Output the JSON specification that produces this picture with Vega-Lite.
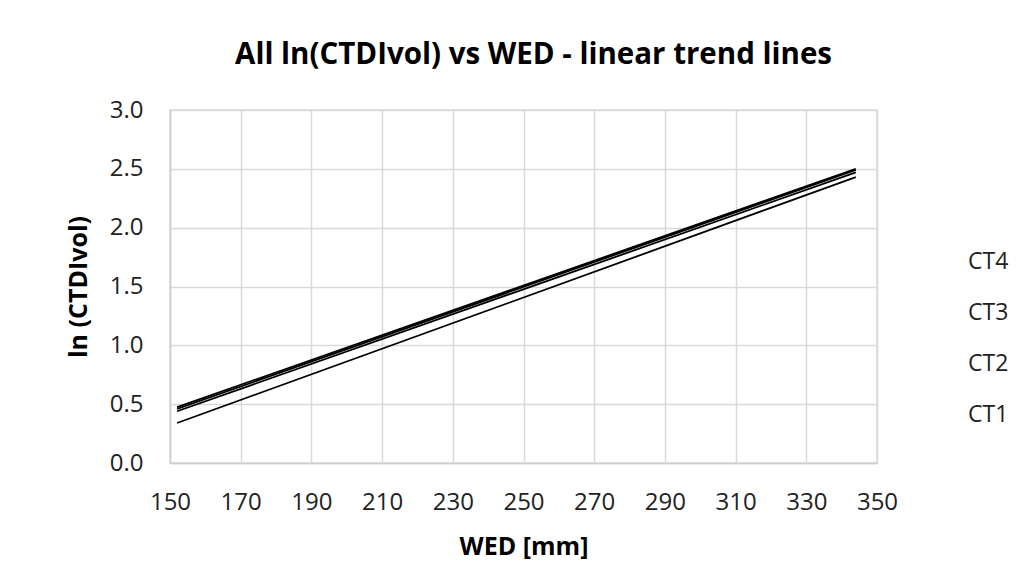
{
  "$schema": "https://vega.github.io/schema/vega-lite/v6.json",
  "autosize": "none",
  "width": 707,
  "height": 353,
  "padding": {"left": 170, "top": 110, "right": 156, "bottom": 122},
  "background": "white",
  "title": {
    "text": "All ln(CTDIvol) vs WED - linear trend lines",
    "font": "Open Sans",
    "fontSize": 29.5,
    "fontWeight": "bold",
    "color": "#000000",
    "anchor": "middle",
    "dx": 10,
    "offset": 28
  },
  "data": {
    "values": [
      {"scanner": "CT1", "wed": 152, "ln_ctdi": 0.34},
      {"scanner": "CT1", "wed": 344, "ln_ctdi": 2.43},
      {"scanner": "CT2", "wed": 152, "ln_ctdi": 0.44},
      {"scanner": "CT2", "wed": 344, "ln_ctdi": 2.47},
      {"scanner": "CT3", "wed": 152, "ln_ctdi": 0.46},
      {"scanner": "CT3", "wed": 344, "ln_ctdi": 2.49},
      {"scanner": "CT4", "wed": 152, "ln_ctdi": 0.475},
      {"scanner": "CT4", "wed": 344, "ln_ctdi": 2.5}
    ]
  },
  "mark": {"type": "line", "strokeWidth": 1.8},
  "encoding": {
    "x": {
      "field": "wed",
      "type": "quantitative",
      "title": "WED [mm]",
      "scale": {"domain": [150, 350], "nice": false, "zero": false},
      "axis": {
        "values": [150, 170, 190, 210, 230, 250, 270, 290, 310, 330, 350],
        "labelFlush": false,
        "titlePadding": 20
      }
    },
    "y": {
      "field": "ln_ctdi",
      "type": "quantitative",
      "title": "ln (CTDIvol)",
      "scale": {"domain": [0, 3], "nice": false},
      "axis": {
        "values": [0, 0.5, 1, 1.5, 2, 2.5, 3],
        "format": ".1f",
        "titlePadding": 18
      }
    },
    "color": {
      "field": "scanner",
      "type": "nominal",
      "sort": ["CT4", "CT3", "CT2", "CT1"],
      "scale": {"range": ["#000000", "#000000", "#000000", "#000000"]},
      "legend": {
        "title": null,
        "orient": "none",
        "legendX": 771,
        "legendY": 140,
        "symbolType": "stroke",
        "symbolSize": 1,
        "symbolStrokeWidth": 0,
        "symbolOpacity": 0,
        "labelFont": "Open Sans",
        "labelFontSize": 23,
        "labelColor": "#222222",
        "rowPadding": 27
      }
    }
  },
  "config": {
    "view": {"stroke": "#d9d9d9", "strokeWidth": 1.5},
    "axis": {
      "domainColor": "#d0d0d0",
      "domainWidth": 1.5,
      "gridColor": "#d9d9d9",
      "gridWidth": 1.5,
      "ticks": false,
      "labelFont": "Open Sans",
      "labelFontSize": 24,
      "labelColor": "#222222",
      "labelPadding": 27,
      "titleFont": "Open Sans",
      "titleFontSize": 25,
      "titleFontWeight": "bold",
      "titleColor": "#000000"
    }
  }
}
